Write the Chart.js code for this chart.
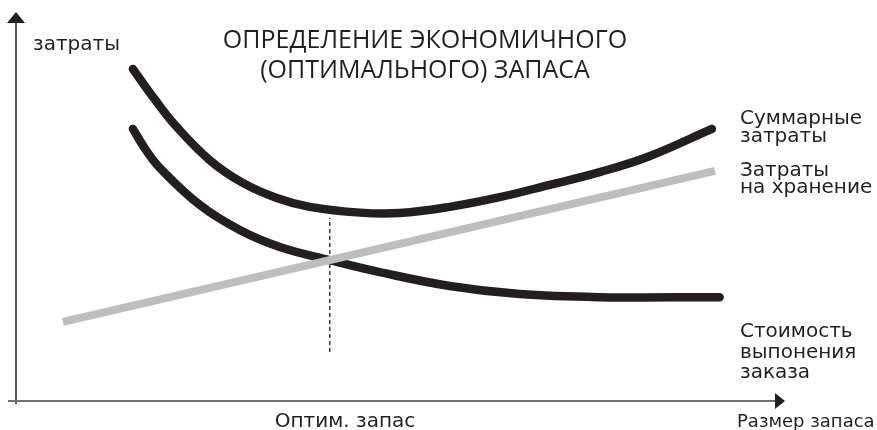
<!DOCTYPE html>
<html lang="ru">
<head>
    <meta charset="UTF-8">
    <title>Оптимальный запас</title>
    <script src="https://cdn.jsdelivr.net/npm/chart.js"></script>
    <style>
        body { margin: 0; background: #fff; }
    </style>
</head>
<body>
    <canvas id="stockChart" width="877" height="430"></canvas>

    <script>
        // values (x: stock size, y: cost, both 0..100)
        var totalX = [15.2, 18.1, 20.9, 25.2, 29.5, 33.9, 38.2, 44.7, 49.9, 56.4, 62.9, 69.4, 75.9, 82.1, 90.5];
        var totalY = [86.0, 78.0, 71.0, 62.4, 56.5, 52.6, 50.3, 48.8, 48.7, 50.3, 52.8, 56.0, 59.3, 63.2, 70.5];
        var orderX = [15.2, 16.9, 18.7, 23.9, 29.1, 34.3, 40.8, 47.3, 56.4, 65.5, 75.9, 91.5];
        var orderY = [70.5, 65.0, 60.4, 50.8, 44.3, 39.9, 36.5, 33.4, 29.8, 27.7, 26.9, 26.9];
        var holdX = [6.1, 90.9];
        var holdY = [20.5, 59.6];
        var optimumX = [40.8, 40.8];
        var optimumY = [12.7, 47.4];

        var titleLines = ['ОПРЕДЕЛЕНИЕ ЭКОНОМИЧНОГО', '(ОПТИМАЛЬНОГО) ЗАПАСА'];
        var yAxisTitle = 'затраты';
        var xAxisTitle = 'Размер запаса';
        var optimumLabel = 'Оптим. запас';
        var totalLabel = ['Суммарные', 'затраты'];
        var holdLabel = ['Затраты', 'на хранение'];
        var orderLabel = ['Стоимость', 'выпонения', 'заказа'];

        function pts(xs, ys) {
            return xs.map(function (x, i) { return { x: x, y: ys[i] }; });
        }

        var ink = '#231f20';
        var labelFont = '20px "DejaVu Sans"';

        var overlay = {
            id: 'overlay',
            beforeDatasetsDraw: function (chart) {
                var ctx = chart.ctx;
                var xs = chart.scales.x, ys = chart.scales.y;
                var x0 = xs.getPixelForValue(0), y0 = ys.getPixelForValue(0);
                var top = chart.chartArea.top, right = chart.chartArea.right;
                ctx.save();
                // y axis
                ctx.strokeStyle = ink;
                ctx.lineWidth = 1.5;
                ctx.beginPath();
                ctx.moveTo(x0, y0 + 3);
                ctx.lineTo(x0, top + 8);
                ctx.stroke();
                ctx.fillStyle = ink;
                ctx.beginPath();
                ctx.moveTo(x0, top - 3);
                ctx.lineTo(x0 - 9, top + 8);
                ctx.lineTo(x0 + 9, top + 8);
                ctx.closePath();
                ctx.fill();
                // x axis
                ctx.strokeStyle = '#6d6e70';
                ctx.lineWidth = 2;
                ctx.beginPath();
                ctx.moveTo(x0 - 8, y0);
                ctx.lineTo(right - 10, y0);
                ctx.stroke();
                ctx.fillStyle = ink;
                ctx.beginPath();
                ctx.moveTo(right, y0);
                ctx.lineTo(right - 10, y0 - 8);
                ctx.lineTo(right - 10, y0 + 8);
                ctx.closePath();
                ctx.fill();
                ctx.restore();
            },
            afterDraw: function (chart) {
                var ctx = chart.ctx;
                ctx.save();
                ctx.fillStyle = ink;
                ctx.textBaseline = 'alphabetic';

                ctx.font = '25px "Open Sans"';
                ctx.textAlign = 'center';
                ctx.fillText(titleLines[0], 425, 48);
                ctx.fillText(titleLines[1], 425, 78);

                ctx.font = labelFont;
                ctx.fillText(optimumLabel, 345, 427);

                ctx.textAlign = 'left';
                ctx.fillText(yAxisTitle, 33, 50);
                ctx.fillText(totalLabel[0], 740, 124);
                ctx.fillText(totalLabel[1], 740, 142);
                ctx.fillText(holdLabel[0], 740, 176);
                ctx.fillText(holdLabel[1], 740, 193, 135);
                ctx.fillText(orderLabel[0], 740, 337);
                ctx.fillText(orderLabel[1], 740, 358);
                ctx.fillText(orderLabel[2], 740, 378);

                ctx.font = '18px "DejaVu Sans"';
                ctx.fillText(xAxisTitle, 737, 427);
                ctx.restore();
            }
        };

        var ctx = document.getElementById('stockChart').getContext('2d');
        var chart = new Chart(ctx, {
            type: 'scatter',
            data: {
                datasets: [{
                    label: 'Затраты на хранение',
                    data: pts(holdX, holdY),
                    showLine: true,
                    borderColor: '#bcbec0',
                    borderWidth: 8,
                    borderCapStyle: 'butt'
                }, {
                    label: 'Оптим. запас',
                    data: pts(optimumX, optimumY),
                    showLine: true,
                    borderColor: '#3a3a3a',
                    borderWidth: 1.5,
                    borderDash: [4, 3]
                }, {
                    label: 'Стоимость выпонения заказа',
                    data: pts(orderX, orderY),
                    showLine: true,
                    borderColor: ink,
                    borderWidth: 8.5,
                    borderCapStyle: 'round',
                    tension: 0.4
                }, {
                    label: 'Суммарные затраты',
                    data: pts(totalX, totalY),
                    showLine: true,
                    borderColor: ink,
                    borderWidth: 8.5,
                    borderCapStyle: 'round',
                    tension: 0.4
                }]
            },
            options: {
                responsive: false,
                animation: false,
                layout: { padding: { left: 16, right: 92, top: 15, bottom: 29 } },
                elements: { point: { radius: 0, hoverRadius: 0 } },
                plugins: {
                    legend: { display: false },
                    tooltip: { enabled: false }
                },
                scales: {
                    x: { type: 'linear', min: 0, max: 100, display: false },
                    y: { type: 'linear', min: 0, max: 100, display: false }
                }
            },
            plugins: [overlay]
        });
    </script>
</body>
</html>
